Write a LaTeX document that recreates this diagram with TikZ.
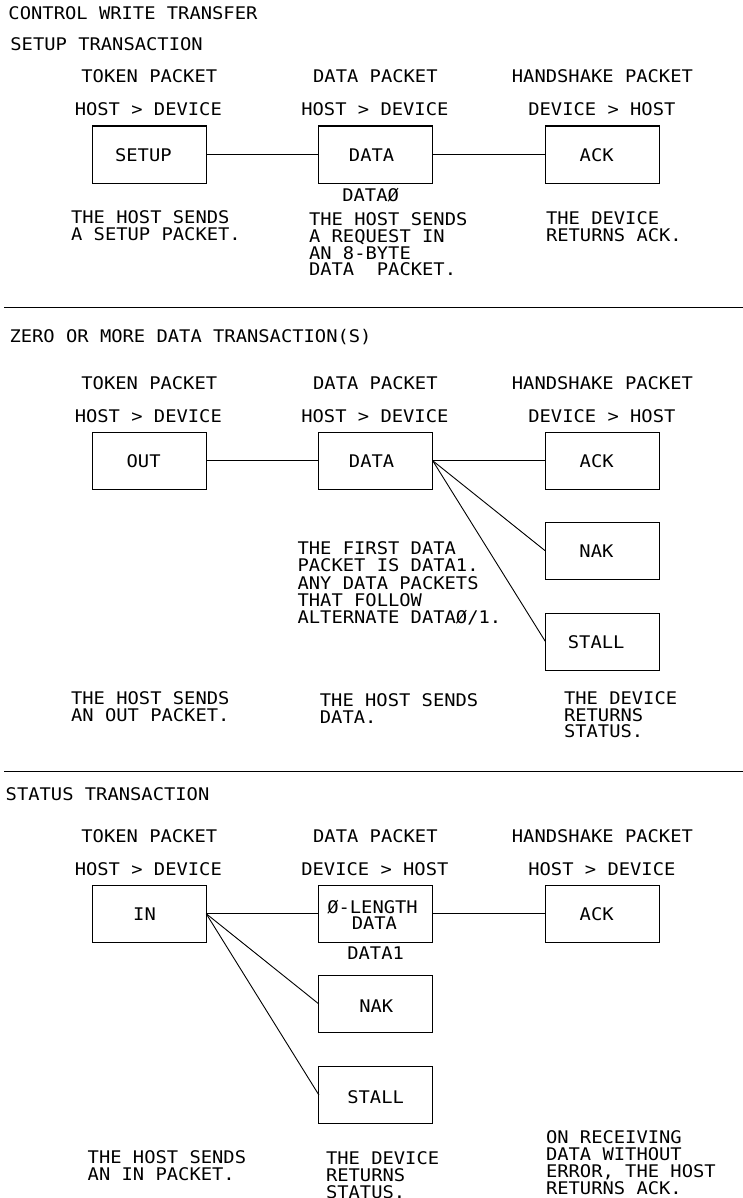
\documentclass[tikz,border=0pt]{standalone}
\usepackage{fontspec}
\newfontfamily\cadfont[FakeStretch=1.08]{DejaVu Sans Mono}
\begin{document}
\begin{tikzpicture}[x=1pt,y=-1pt,
 txt/.style={font=\cadfont\fontsize{17.4pt}{16.8pt}\selectfont, inner sep=0pt, outer sep=0pt},
 lt/.style={txt, anchor=base west},
 ct/.style={txt, anchor=base},
 ml/.style={txt, anchor=north west, align=left},
 pkt/.style={draw, line width=1.1pt, minimum width=113.8pt, minimum height=57.3pt, inner sep=0pt, outer sep=0pt},
 wire/.style={line width=0.9pt},
 rulel/.style={line width=1pt}]
\useasboundingbox (0,0) rectangle (743,1198);
\fill[white] (0,0) rectangle (743,1198);
% ---------------- section 1
\node[lt] (t1) at (8.5,19.7) {CONTROL WRITE TRANSFER};
\node[lt] (s1) at (10.4,50.7) {SETUP TRANSACTION};
\node[ct] (h1a) at (149.3,82.7) {TOKEN PACKET};
\node[ct] (h1b) at (375.4,82.7) {DATA PACKET};
\node[ct] (h1c) at (602.4,82.7) {HANDSHAKE PACKET};
\node[ct] (d1a) at (148.3,116) {HOST > DEVICE};
\node[ct] (d1b) at (374.9,116) {HOST > DEVICE};
\node[ct] (d1c) at (601.9,116) {DEVICE > HOST};
\node[pkt] (setup) at (149.3,154.7) {};
\node[pkt] (data1) at (375.8,154.7) {};
\node[pkt] (ack1) at (602.4,154.7) {};
\node[ct] (setupl) at (143.4,161.3) {SETUP};
\node[ct] (data1l) at (371.6,161.3) {DATA};
\node[ct] (ack1l) at (596.7,161.3) {ACK};
\node[ct] (data0) at (370.6,201.3) {DATAØ};
\draw[wire] (setup.east) -- (data1.west);
\draw[wire] (data1.east) -- (ack1.west);
\node[ml] (n1a) at (71.1,210.3) {THE HOST SENDS\\A SETUP PACKET.};
\node[ml] (n1b) at (309,212.6) {THE HOST SENDS\\A REQUEST IN\\AN 8-BYTE\\DATA\ \ PACKET.};
\node[ml] (n1c) at (546,211.3) {THE DEVICE\\RETURNS ACK.};
\draw[rulel] (4,307.3) -- (743,307.3);
% ---------------- section 2
\node[lt] (s2) at (9.5,342) {ZERO OR MORE DATA TRANSACTION(S)};
\node[ct] (h2a) at (149.3,389) {TOKEN PACKET};
\node[ct] (h2b) at (375.4,389) {DATA PACKET};
\node[ct] (h2c) at (602.4,389) {HANDSHAKE PACKET};
\node[ct] (d2a) at (148.3,422.3) {HOST > DEVICE};
\node[ct] (d2b) at (374.9,422.3) {HOST > DEVICE};
\node[ct] (d2c) at (601.9,422.3) {DEVICE > HOST};
\node[pkt] (out) at (149.3,460.7) {};
\node[pkt] (data2) at (375.8,460.7) {};
\node[pkt] (ack2) at (602.4,460.7) {};
\node[pkt] (nak2) at (602.4,551) {};
\node[pkt] (stall2) at (602.4,641.7) {};
\node[ct] (outl) at (143.6,467) {OUT};
\node[ct] (data2l) at (371.6,467) {DATA};
\node[ct] (ack2l) at (596.7,467) {ACK};
\node[ct] (nak2l) at (596.4,557.6) {NAK};
\node[ct] (stall2l) at (596.2,648) {STALL};
\draw[wire] (out.east) -- (data2.west);
\draw[wire] (data2.east) -- (ack2.west);
\draw[wire] (data2.east) -- (nak2.west);
\draw[wire] (data2.east) -- (stall2.west);
\node[ml, font=\cadfont\fontsize{17.4pt}{17.1pt}\selectfont] (n2note) at (297.6,541.9) {THE FIRST DATA\\PACKET IS DATA1.\\ANY DATA PACKETS\\THAT FOLLOW\\ALTERNATE DATAØ/1.};
\node[ml] (n2a) at (71.1,692) {THE HOST SENDS\\AN OUT PACKET.};
\node[ml] (n2b) at (319.9,693.6) {THE HOST SENDS\\DATA.};
\node[ml] (n2c) at (564,691.4) {THE DEVICE\\RETURNS\\STATUS.};
\draw[rulel] (4,771.7) -- (743,771.7);
% ---------------- section 3
\node[lt] (s3) at (5.7,800.7) {STATUS TRANSACTION};
\node[ct] (h3a) at (149.3,842.3) {TOKEN PACKET};
\node[ct] (h3b) at (375.4,842.3) {DATA PACKET};
\node[ct] (h3c) at (602.4,842.3) {HANDSHAKE PACKET};
\node[ct] (d3a) at (148.3,875.3) {HOST > DEVICE};
\node[ct] (d3b) at (374.9,875.3) {DEVICE > HOST};
\node[ct] (d3c) at (601.9,875.3) {HOST > DEVICE};
\node[pkt] (in) at (149.3,913.7) {};
\node[pkt] (zl) at (375.8,913.7) {};
\node[pkt] (ack3) at (602.4,913.7) {};
\node[pkt] (nak3) at (375.8,1004) {};
\node[pkt] (stall3) at (375.8,1095) {};
\node[ct] (inl) at (144.5,920.4) {IN};
\node[ct] (zll1) at (372.5,913) {Ø-LENGTH};
\node[ct] (zll2) at (374.4,929.7) {DATA};
\node[ct] (ack3l) at (596.7,920.4) {ACK};
\node[ct] (data1b) at (375.6,959.7) {DATA1};
\node[ct] (nak3l) at (376.3,1012.5) {NAK};
\node[ct] (stall3l) at (375.6,1103.5) {STALL};
\draw[wire] (in.east) -- (zl.west);
\draw[wire] (zl.east) -- (ack3.west);
\draw[wire] (in.east) -- (nak3.west);
\draw[wire] (in.east) -- (stall3.west);
\node[ml] (n3a) at (87.7,1150.3) {THE HOST SENDS\\AN IN PACKET.};
\node[ml] (n3b) at (326,1152) {THE DEVICE\\RETURNS\\STATUS.};
\node[ml] (n3c) at (546,1131) {ON RECEIVING\\DATA WITHOUT\\ERROR, THE HOST\\RETURNS ACK.};
\end{tikzpicture}
\end{document}
